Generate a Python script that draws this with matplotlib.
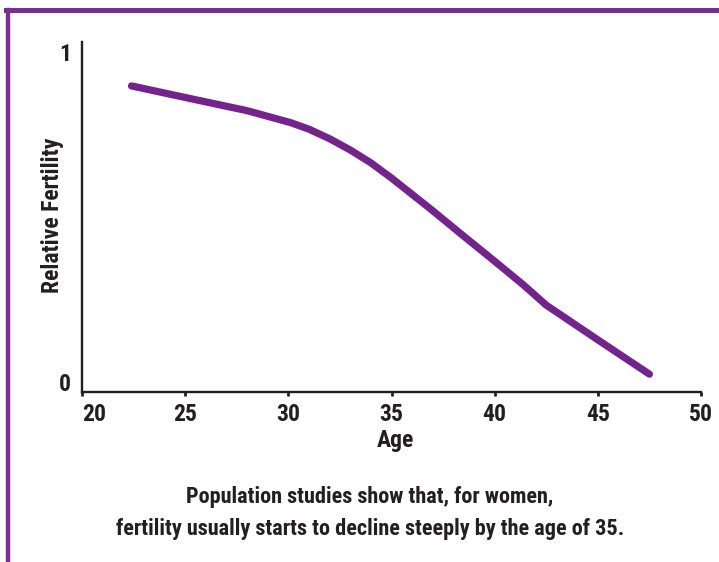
import matplotlib
matplotlib.use("Agg")
import matplotlib.pyplot as plt
from matplotlib import font_manager as fm

ages = [22.4, 25.0, 28.0, 30.1, 31.0, 32.0, 33.0, 34.0, 35.0, 36.9, 38.5, 40.0, 41.4, 42.5, 45.0, 47.5]
fertility = [0.897, 0.862, 0.822, 0.786, 0.766, 0.737, 0.703, 0.664, 0.618, 0.524, 0.442, 0.366, 0.294, 0.233, 0.128, 0.024]
x_ticks = [20, 25, 30, 35, 40, 45, 50]
y_ticks = [0, 1]
x_label = "Age"
y_label = "Relative Fertility"
caption = ["Population studies show that, for women,",
           "fertility usually starts to decline steeply by the age of 35."]

names = {f.name for f in fm.fontManager.ttflist}
fam = [f for f in ["Liberation Sans Narrow", "Roboto Condensed", "Open Sans Condensed", "DejaVu Sans Condensed", "DejaVu Sans"] if f in names]
plt.rcParams['font.family'] = fam
plt.rcParams['font.weight'] = 'bold'

INK = "#231F20"
PURPLE = "#74238C"
W, H = 719, 562
fig = plt.figure(figsize=(W/100, H/100), dpi=100)
fig.patch.set_facecolor("white")

# border (left and top)
fig.add_artist(plt.Line2D([8/W, 8/W], [0, 1 - 9.5/H], color="#7B2D91", lw=3.2, transform=fig.transFigure))
fig.add_artist(plt.Line2D([6/W, 1], [1 - 9.5/H, 1 - 9.5/H], color="#7B2D91", lw=3.6, transform=fig.transFigure))

ax = fig.add_axes([82/W, 1 - 392/H, (701 - 82)/W, (392 - 42)/H])
ax.plot(ages, fertility, color=PURPLE, lw=5.2, solid_capstyle='round', solid_joinstyle='round')
ax.set_xlim(20, 50)
ax.set_ylim(-0.03, 1.03)
for s in ["top", "right"]:
    ax.spines[s].set_visible(False)
for s in ["left", "bottom"]:
    ax.spines[s].set_color(INK)
    ax.spines[s].set_linewidth(1.7)
ax.set_xticks(x_ticks)
ax.set_xticklabels([str(t) for t in x_ticks], fontsize=17, fontweight='bold', color=INK)
ax.set_yticks(y_ticks)
ax.set_yticklabels([str(t) for t in y_ticks], fontsize=17, fontweight='bold', color=INK)
ax.tick_params(axis='x', length=3, width=2, color=INK, pad=5)
ax.tick_params(axis='y', length=0, pad=8)
ax.get_xticklabels()[0].set_horizontalalignment('left')

fig.text(395/W, 1 - 441/H, x_label, ha='center', va='center', fontsize=17, fontweight='bold', color=INK)
fig.text(52/W, 1 - 215/H, y_label, ha='center', va='center', rotation=90, fontsize=17, fontweight='bold', color=INK)
fig.text(370/W, 1 - 497/H, caption[0], ha='center', va='center', fontsize=16, fontweight='bold', color=INK)
fig.text(370/W, 1 - 529/H, caption[1], ha='center', va='center', fontsize=16, fontweight='bold', color=INK)

fig.savefig("out.png", dpi=100, facecolor="white")
